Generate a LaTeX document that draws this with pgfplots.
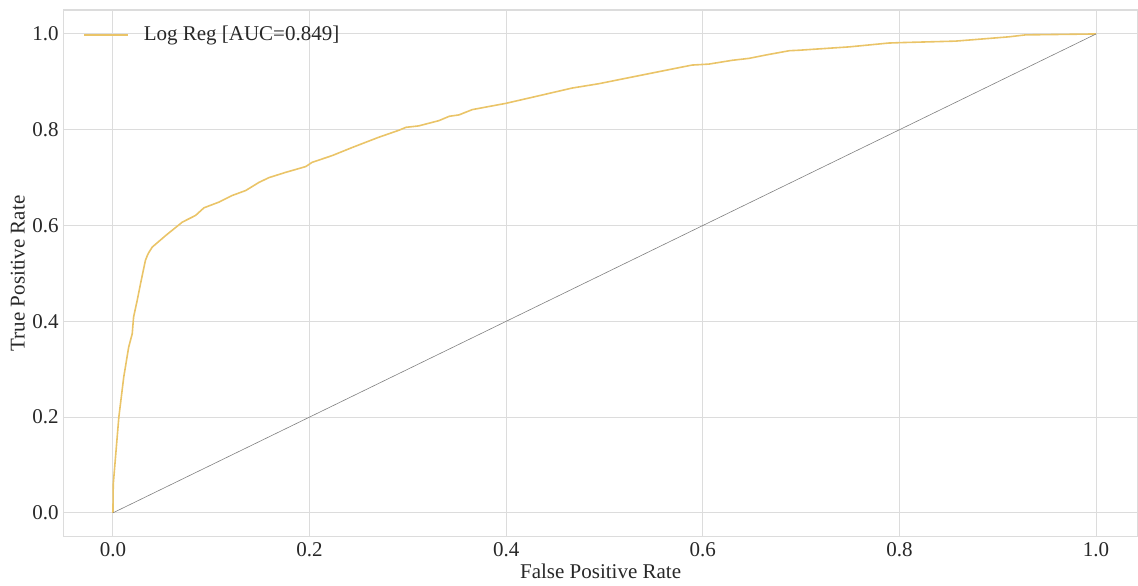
\documentclass[border=0pt]{standalone}
\usepackage{pgfplots}
\pgfplotsset{compat=1.18}
\usepackage{fontspec}
\setmainfont{Liberation Serif}
\definecolor{rocyellow}{RGB}{234,196,104}
\definecolor{gridgray}{RGB}{220,220,220}
\definecolor{txtgray}{RGB}{40,40,40}
\begin{document}
\begin{tikzpicture}
\begin{axis}[
  name=main,
  scale only axis,
  width=537pt, height=263.5pt,
  xmin=-0.05, xmax=1.042, ymin=-0.05, ymax=1.05,
  xtick={0,0.2,0.4,0.6,0.8,1.0}, ytick={0,0.2,0.4,0.6,0.8,1.0},
  xticklabels={0.0,0.2,0.4,0.6,0.8,1.0},
  yticklabels={0.0,0.2,0.4,0.6,0.8,1.0},
  major tick length=0pt,
  grid=major,
  major grid style={gridgray, line width=0.5pt},
  axis line style={gridgray, line width=0.6pt},
  tick label style={font=\fontsize{10.5}{12}\selectfont, text=txtgray},
  xticklabel style={yshift=0.5pt},
  yticklabel style={xshift=1pt},
  label style={font=\fontsize{10.5}{12}\selectfont, text=txtgray},
  xlabel={False Positive Rate},
  ylabel={True Positive Rate},
  xlabel style={yshift=3.5pt},
  ylabel style={yshift=-3pt},
  legend style={draw=none, fill=none, at={(0,1)}, anchor=north west,
    xshift=6.5pt, yshift=-4pt,
    font=\fontsize{10.5}{12}\selectfont, text=txtgray},
  legend cell align=left,
  legend image code/.code={\draw[#1] (0pt,0pt) -- (22pt,0pt); \path (27.5pt,0pt);},
]
\addplot[rocyellow, line width=0.8pt] coordinates {
(0,0) (0.0003,0.06) (0.006,0.20) (0.011,0.284) (0.016,0.346) (0.0196,0.374)
(0.021,0.409) (0.0247,0.444) (0.028,0.478) (0.033,0.527) (0.035,0.5375)
(0.0366,0.544) (0.04,0.555) (0.0536,0.579) (0.0705,0.607) (0.084,0.621)
(0.0926,0.637) (0.108,0.649) (0.121,0.6625) (0.135,0.673) (0.1485,0.69)
(0.1587,0.70) (0.1757,0.711) (0.196,0.723) (0.2027,0.732) (0.223,0.746)
(0.2435,0.763) (0.27,0.784) (0.291,0.799) (0.298,0.805) (0.311,0.808)
(0.3316,0.819) (0.342,0.828) (0.352,0.831) (0.3655,0.842) (0.3995,0.855)
(0.4334,0.871) (0.467,0.887) (0.494,0.896) (0.528,0.910) (0.562,0.924)
(0.589,0.935) (0.606,0.937) (0.630,0.945) (0.647,0.949) (0.664,0.956)
(0.688,0.965) (0.698,0.966) (0.749,0.973) (0.789,0.981) (0.803,0.982)
(0.857,0.985) (0.9115,0.994) (0.928,0.998) (1.0,1.0)
};
\addlegendentry{Log Reg [AUC=0.849]}
\addplot[black!50, line width=0.3pt, forget plot] coordinates {(0,0) (1,1)};
\end{axis}
\path ([yshift=5pt]main.north);
\path (current bounding box.west) ++(-2pt,0pt);
\end{tikzpicture}
\end{document}
